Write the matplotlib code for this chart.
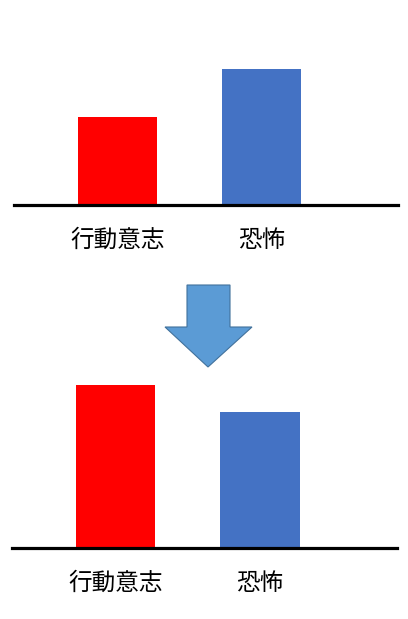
import matplotlib
matplotlib.use('Agg')
import matplotlib.pyplot as plt
import matplotlib.patches as mpatches

plt.rcParams['font.family'] = ['Noto Sans CJK JP', 'DejaVu Sans']

# data (arbitrary units)
categories = ['行動意志', '恐怖']
before_values = [65, 100]
after_values = [120, 100]
bar_colors = ['#FF0000', '#4472C4']

W, H = 408, 619
fig = plt.figure(figsize=(W / 100, H / 100), dpi=100)

PX_PER_UNIT = 1.36


def bar_panel(left_px, right_px, base_px, height_px, values):
    ax = fig.add_axes([left_px / W, (H - base_px) / H,
                       (right_px - left_px) / W, height_px / H])
    ax.bar(range(len(values)), values, width=0.55, color=bar_colors)
    ax.set_xlim(-0.72, 1.95)
    ax.set_ylim(0, height_px / PX_PER_UNIT)
    for s in ['top', 'left', 'right']:
        ax.spines[s].set_visible(False)
    ax.spines['bottom'].set_linewidth(2.3)
    ax.spines['bottom'].set_color('black')
    ax.set_yticks([])
    ax.set_xticks(range(len(categories)))
    ax.set_xticklabels(categories, fontsize=17)
    ax.tick_params(axis='x', length=0, pad=17)
    return ax


bar_panel(14, 398, 205, 180, before_values)
bar_panel(12, 397, 548, 200, after_values)

# down arrow between the two panels
overlay = fig.add_axes([0, 0, 1, 1])
overlay.set_xlim(0, W)
overlay.set_ylim(H, 0)
overlay.axis('off')
arrow = mpatches.Polygon(
    [(187, 285), (230, 285), (230, 327), (252, 327), (208, 367),
     (165, 327), (187, 327)],
    closed=True, facecolor='#5B9BD5', edgecolor='#41719C', linewidth=0.8)
overlay.add_patch(arrow)

fig.savefig('out.png', dpi=100)
